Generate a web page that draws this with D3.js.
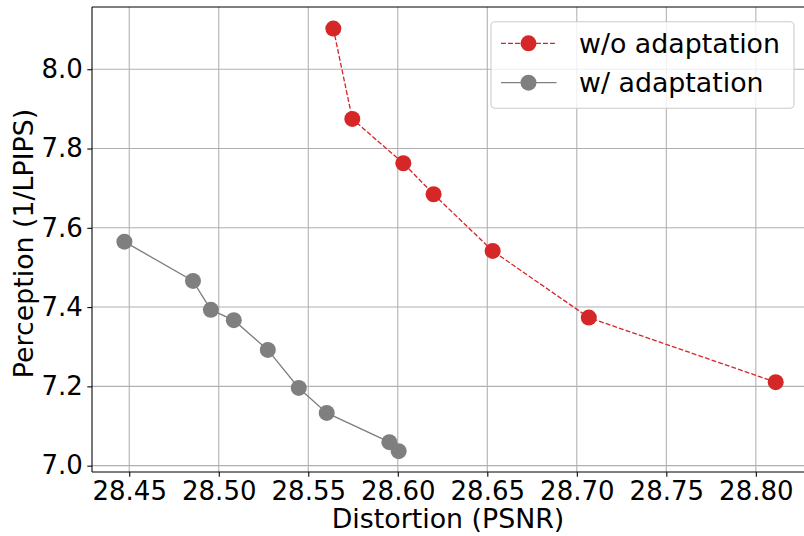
<!DOCTYPE html>
<html>
<head>
<meta charset="utf-8">
<script src="https://cdn.jsdelivr.net/npm/d3@7"></script>
<style>
  html, body { margin: 0; padding: 0; background: #fff; }
  svg { display: block; }
  text { font-family: "DejaVu Sans", sans-serif; }
</style>
</head>
<body>
<script>
// ---- data ----
const seriesNames = ["w/o adaptation", "w/ adaptation"];
const woX = [28.5640, 28.5746, 28.6031, 28.6200, 28.6530, 28.7067, 28.8111];
const woY = [8.1026, 7.8747, 7.7628, 7.6847, 7.5417, 7.3735, 7.2106];
const wX = [28.4473, 28.4856, 28.4956, 28.5084, 28.5274, 28.5447, 28.5603, 28.5953, 28.6005];
const wY = [7.565, 7.466, 7.393, 7.367, 7.292, 7.196, 7.133, 7.0593, 7.0366];
const xTicks = [28.45, 28.50, 28.55, 28.60, 28.65, 28.70, 28.75, 28.80];
const yTicks = [7.0, 7.2, 7.4, 7.6, 7.8, 8.0];
const xLabel = "Distortion (PSNR)";
const yLabel = "Perception (1/LPIPS)";

// ---- layout ----
const W = 804, H = 536;
const pL = 92, pR = 804, pT = 7, pB = 472;
const tickFont = 26, labelFont = 26.8, legendFont = 26.8;

const svg = d3.select("body").append("svg").attr("width", W).attr("height", H);

const x = d3.scaleLinear().domain([28.4292, 28.8269]).range([pL, pR]);
const y = d3.scaleLinear().domain([6.984, 8.157]).range([pB, pT]);

// grid
const grid = svg.append("g");
grid.selectAll("line.gx").data(xTicks).enter().append("line")
  .attr("x1", d => x(d)).attr("x2", d => x(d)).attr("y1", pT).attr("y2", pB)
  .attr("stroke", "#b0b0b0").attr("stroke-width", 1.07);
grid.selectAll("line.gy").data(yTicks).enter().append("line")
  .attr("x1", pL).attr("x2", pR).attr("y1", d => y(d)).attr("y2", d => y(d))
  .attr("stroke", "#b0b0b0").attr("stroke-width", 1.07);

// axes
const xAxis = d3.axisBottom(x).tickValues(xTicks).tickFormat(d3.format(".2f"))
  .tickSizeInner(4.7).tickSizeOuter(0).tickPadding(4.5);
const yAxis = d3.axisLeft(y).tickValues(yTicks).tickFormat(d3.format(".1f"))
  .tickSizeInner(4.7).tickSizeOuter(0).tickPadding(4.5);

const gx = svg.append("g").attr("transform", `translate(0,${pB})`).call(xAxis);
const gy = svg.append("g").attr("transform", `translate(${pL},0)`).call(yAxis);
[gx, gy].forEach(g => {
  g.select(".domain").remove();
  g.selectAll(".tick line").attr("stroke", "#000").attr("stroke-width", 1.07);
  g.selectAll(".tick text").attr("fill", "#000").style("font-size", tickFont + "px")
    .style("font-family", '"DejaVu Sans", sans-serif');
});

// series
const line = d3.line().x(d => x(d[0])).y(d => y(d[1]));
const woData = woX.map((v, i) => [v, woY[i]]);
const wData = wX.map((v, i) => [v, wY[i]]);

const series = [
  { name: seriesNames[0], data: woData, color: "#d62728", dash: "4.9,2.1" },
  { name: seriesNames[1], data: wData, color: "#7f7f7f", dash: null }
];

series.forEach(s => {
  const g = svg.append("g");
  g.append("path").datum(s.data).attr("d", line)
    .attr("fill", "none").attr("stroke", s.color).attr("stroke-width", 1.33)
    .attr("stroke-dasharray", s.dash);
  g.selectAll("circle").data(s.data).enter().append("circle")
    .attr("cx", d => x(d[0])).attr("cy", d => y(d[1])).attr("r", 8)
    .attr("fill", s.color);
});

// spines
svg.append("line").attr("x1", pL).attr("x2", pL).attr("y1", pT).attr("y2", pB)
  .attr("stroke", "#000").attr("stroke-width", 1.07);
svg.append("line").attr("x1", pL).attr("x2", pR).attr("y1", pB).attr("y2", pB)
  .attr("stroke", "#000").attr("stroke-width", 1.07);
svg.append("line").attr("x1", pL).attr("x2", pR).attr("y1", pT).attr("y2", pT)
  .attr("stroke", "#000").attr("stroke-width", 1.07);

// axis labels
svg.append("text").attr("x", (pL + pR) / 2).attr("y", 528)
  .attr("text-anchor", "middle").style("font-size", labelFont + "px").text(xLabel);
svg.append("text").attr("transform", `translate(33,${(pT + pB) / 2 + 4}) rotate(-90)`)
  .attr("text-anchor", "middle").style("font-size", labelFont + "px").text(yLabel);

// legend
const lg = svg.append("g");
lg.append("rect").attr("x", 491).attr("y", 21.7).attr("width", 303).attr("height", 86.6)
  .attr("rx", 4).attr("ry", 4)
  .attr("fill", "rgba(255,255,255,0.8)").attr("stroke", "#cccccc").attr("stroke-width", 1.07);
const rowsY = [43.3, 82.7];
series.forEach((s, i) => {
  const ry = rowsY[i];
  lg.append("line").attr("x1", 501).attr("x2", 556.5).attr("y1", ry).attr("y2", ry)
    .attr("stroke", s.color).attr("stroke-width", 1.33).attr("stroke-dasharray", s.dash);
  lg.append("circle").attr("cx", 528.5).attr("cy", ry).attr("r", 8).attr("fill", s.color);
  lg.append("text").attr("x", 579).attr("y", ry).attr("dy", "0.36em")
    .style("font-size", legendFont + "px").attr("fill", "#000").text(s.name);
});
</script>
</body>
</html>
